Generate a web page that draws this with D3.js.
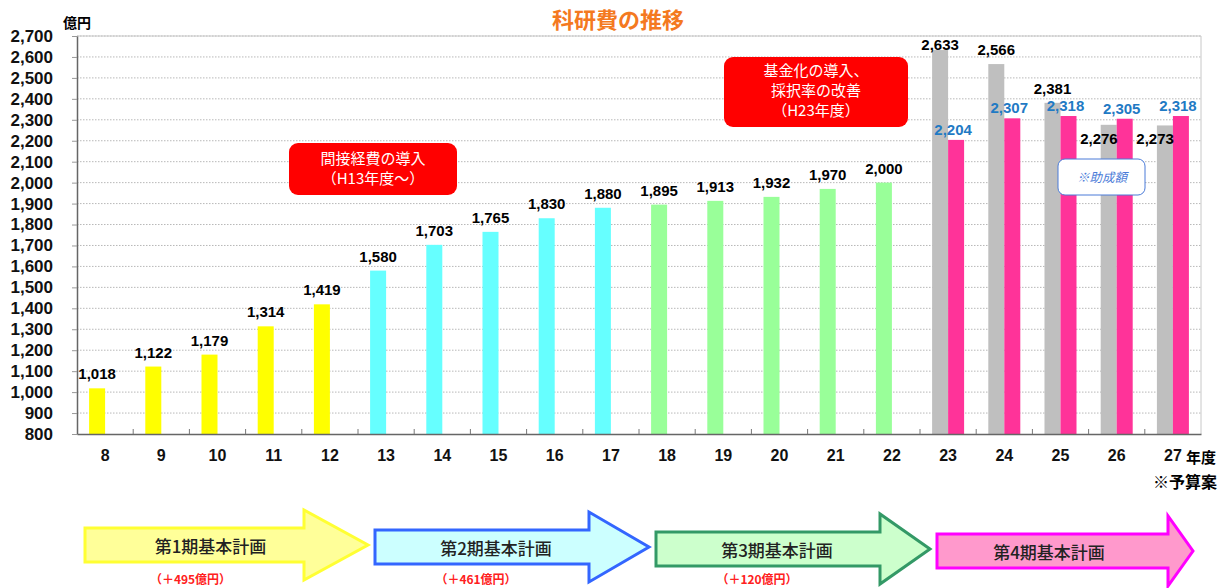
<!DOCTYPE html>
<html>
<head>
<meta charset="utf-8">
<script src="https://cdn.jsdelivr.net/npm/d3@7"></script>
<style>
  body { margin: 0; background: #fff; }
  svg { display: block; font-family: "Liberation Sans", Arial, "Noto Sans CJK JP", sans-serif; }
  .jp { font-family: "Noto Sans CJK JP", sans-serif; }
</style>
</head>
<body>
<svg id="chart" width="1223" height="588"></svg>
<script>
// fiscal years (Heisei) and budget in 億円
const years = ['8', '9', '10', '11', '12', '13', '14', '15', '16', '17',
    '18', '19', '20', '21', '22', '23', '24', '25', '26', '27'];
const totalValues = [1018, 1122, 1179, 1314, 1419, 1580, 1703, 1765, 1830, 1880,
    1895, 1913, 1932, 1970, 2000, 2633, 2566, 2381, 2276, 2273];
// 助成額 (grant amount) from H23
const grantYears = ['23', '24', '25', '26', '27'];
const grantValues = [2204, 2307, 2318, 2305, 2318];

const yTickValues = [800, 900, 1000, 1100, 1200, 1300, 1400, 1500, 1600, 1700,
    1800, 1900, 2000, 2100, 2200, 2300, 2400, 2500, 2600, 2700];

// basic plan periods
const periodNames = ['第1期基本計画', '第2期基本計画', '第3期基本計画', '第4期基本計画'];
const periodFirstYear = ['8', '13', '18', '23'];
const periodLastYear = ['12', '17', '22', '27'];
const periodIncrease = ['（＋495億円）', '（＋461億円）', '（＋120億円）', ''];

const noteLeft = ['間接経費の導入', '（H13年度～）'];
const noteRight = ['基金化の導入、', '採択率の改善', '（H23年度）'];

// ---- layout / styles ----
const margin = { top: 36, left: 77, right: 22, bottom: 154 };
const width = 1223, height = 588;
const barColors = ['#ffff00', '#66ffff', '#99ff99', '#bfbfbf'];
const grantColor = '#ff3399';
const arrowFill = ['#ffff99', '#ccffff', '#ccffcc', '#ff99cc'];
const arrowStroke = ['#ffff33', '#3366ff', '#339966', '#ff00ff'];
const arrowHead = [64, 60, 50, 25];

const svg = d3.select('#chart');

const x0 = d3.scaleBand()
    .domain(years)
    .range([margin.left, width - margin.right]);

const x1 = d3.scaleBand()
    .domain(['total', 'grant'])
    .range([0, x0.bandwidth()])
    .paddingInner(0)
    .paddingOuter(0.756);

const y = d3.scaleLinear()
    .domain([800, 2700])
    .range([height - margin.bottom, margin.top]);

const periodOf = yr => periodLastYear.findIndex(l => +yr <= +l);

// grid
svg.append('g')
    .selectAll('line')
    .data(yTickValues.slice(1))
    .join('line')
    .attr('x1', margin.left)
    .attr('x2', width - margin.right)
    .attr('y1', d => y(d))
    .attr('y2', d => y(d))
    .attr('stroke', '#b8b8b8')
    .attr('stroke-dasharray', '1.5,1.5');

// frame top / right
svg.append('path')
    .attr('d', `M${margin.left},${y(2700)}H${width - margin.right}V${y(800)}`)
    .attr('fill', 'none')
    .attr('stroke', '#c8c8c8');

// bars
const chart = svg.append('g');
chart.selectAll('rect.total')
    .data(years.map((yr, i) => ({ yr, v: totalValues[i] })))
    .join('rect')
    .attr('class', 'total')
    .attr('x', d => x0(d.yr) + x1('total'))
    .attr('width', x1.bandwidth())
    .attr('y', d => y(d.v))
    .attr('height', d => y(800) - y(d.v))
    .attr('fill', d => barColors[periodOf(d.yr)]);

chart.selectAll('rect.grant')
    .data(grantYears.map((yr, i) => ({ yr, v: grantValues[i] })))
    .join('rect')
    .attr('class', 'grant')
    .attr('x', d => x0(d.yr) + x1('grant'))
    .attr('width', x1.bandwidth())
    .attr('y', d => y(d.v))
    .attr('height', d => y(800) - y(d.v))
    .attr('fill', grantColor);

// value labels
const fmt = d3.format(',');
chart.selectAll('text.tv')
    .data(years.map((yr, i) => ({ yr, v: totalValues[i], g: grantValues[grantYears.indexOf(yr)] })))
    .join('text')
    .attr('class', 'tv')
    .attr('font-size', 15)
    .attr('font-weight', 'bold')
    .attr('fill', '#000')
    .each(function (d) {
        const t = d3.select(this);
        // label under the top when the grant label sits above it
        if (d.g !== undefined && d.v <= d.g) {
            t.attr('text-anchor', 'end')
                .attr('x', x0(d.yr) + x1('total') + x1.bandwidth() + 1)
                .attr('y', y(d.v) + 19);
        } else {
            t.attr('text-anchor', 'middle')
                .attr('x', x0(d.yr) + x1('total') + x1.bandwidth() / 2)
                .attr('y', Math.max(y(d.v) - 9, margin.top + 14));
        }
    })
    .text(d => fmt(d.v));

chart.selectAll('text.gv')
    .data(grantYears.map((yr, i) => ({ yr, v: grantValues[i] })))
    .join('text')
    .attr('class', 'gv')
    .attr('font-size', 15)
    .attr('font-weight', 'bold')
    .attr('fill', '#1f7ac4')
    .attr('text-anchor', 'middle')
    .attr('x', d => x0(d.yr) + x1('grant') + x1.bandwidth() / 2 - 3)
    .attr('y', d => y(d.v) - 5)
    .text(d => fmt(d.v));

// y axis
const yAxis = svg.append('g')
    .attr('transform', `translate(${margin.left},0)`)
    .call(d3.axisLeft(y).tickValues(yTickValues).tickFormat(fmt).tickSize(5).tickPadding(19).tickSizeOuter(0));
yAxis.select('.domain').attr('stroke', '#666').attr('stroke-width', 1.5);
yAxis.selectAll('.tick line').attr('stroke', '#999');
yAxis.selectAll('.tick text')
    .attr('font-size', 17)
    .attr('font-weight', 'bold')
    .attr('fill', '#111')
    .attr('font-family', '"Liberation Sans", Arial, sans-serif');

// x axis
const xAxis = svg.append('g')
    .attr('transform', `translate(0,${y(800)})`)
    .call(d3.axisBottom(x0).tickSize(0).tickPadding(16));
xAxis.select('.domain').attr('stroke', '#666').attr('stroke-width', 1.5);
xAxis.selectAll('.tick text')
    .attr('font-size', 16)
    .attr('font-weight', 'bold')
    .attr('fill', '#111')
    .attr('font-family', '"Liberation Sans", Arial, sans-serif');
xAxis.selectAll('line.bound')
    .data(years.slice(1))
    .join('line')
    .attr('class', 'bound')
    .attr('x1', d => x0(d))
    .attr('x2', d => x0(d))
    .attr('y1', 0)
    .attr('y2', -5)
    .attr('stroke', '#777');

// titles and units
svg.append('text')
    .attr('class', 'jp')
    .attr('x', 618).attr('y', 28)
    .attr('text-anchor', 'middle')
    .attr('font-size', 22)
    .attr('font-weight', 'bold')
    .attr('fill', '#f47920')
    .text('科研費の推移');

svg.append('text')
    .attr('class', 'jp')
    .attr('x', 63).attr('y', 28)
    .attr('font-size', 14)
    .attr('font-weight', 'bold')
    .text('億円');

svg.append('text')
    .attr('class', 'jp')
    .attr('x', 1186).attr('y', 463)
    .attr('font-size', 15)
    .attr('font-weight', 'bold')
    .text('年度');

svg.append('text')
    .attr('class', 'jp')
    .attr('x', 1217).attr('y', 488)
    .attr('text-anchor', 'end')
    .attr('font-size', 16)
    .attr('font-weight', 'bold')
    .text('※予算案');

// red callouts
function callout(x, yTop, w, h, lines, lh, firstBase) {
    const g = svg.append('g');
    g.append('rect')
        .attr('x', x).attr('y', yTop)
        .attr('width', w).attr('height', h)
        .attr('rx', 9)
        .attr('fill', '#ff0000');
    g.selectAll('text')
        .data(lines)
        .join('text')
        .attr('class', 'jp')
        .attr('x', x + w / 2)
        .attr('y', (d, i) => firstBase + i * lh)
        .attr('text-anchor', 'middle')
        .attr('font-size', 15)
        .attr('fill', '#fff')
        .text(d => d);
}
callout(289, 143, 168, 52, noteLeft, 20, 164);
callout(724, 57, 184, 70, noteRight, 20, 76);

// ※助成額 box
svg.append('rect')
    .attr('x', 1058).attr('y', 159)
    .attr('width', 87).attr('height', 36)
    .attr('rx', 7)
    .attr('fill', '#fff')
    .attr('stroke', '#4a7bd8');
svg.append('text')
    .attr('class', 'jp')
    .attr('x', 1102).attr('y', 182)
    .attr('text-anchor', 'middle')
    .attr('font-size', 12.5)
    .attr('font-style', 'italic')
    .attr('fill', '#4a7bd8')
    .text('※助成額');

// plan arrows
const arrows = svg.append('g');
periodNames.forEach((name, i) => {
    const left = x0(periodFirstYear[i]) + (i === 0 ? 8 : 17);
    const tip = Math.min(x0(periodLastYear[i]) + x0.bandwidth() + 10, width - 30);
    const base = tip - arrowHead[i];
    const cy = 545 + i * 2;
    const bh = 17, hh = 35;
    const d = `M${left},${cy - bh}H${base}V${cy - hh}L${tip},${cy}L${base},${cy + hh}V${cy + bh}H${left}Z`;
    arrows.append('path')
        .attr('d', d)
        .attr('fill', arrowFill[i])
        .attr('stroke', arrowStroke[i])
        .attr('stroke-width', 3)
        .attr('stroke-linejoin', 'miter');
    const cx = (left + tip) / 2 - 16;
    arrows.append('text')
        .attr('class', 'jp')
        .attr('x', cx)
        .attr('y', cy + 8)
        .attr('text-anchor', 'middle')
        .attr('font-size', 17)
        .attr('font-weight', 500)
        .attr('fill', '#222')
        .text(name);
    if (periodIncrease[i]) {
        arrows.append('text')
            .attr('class', 'jp')
            .attr('x', cx - 20)
            .attr('y', 584)
            .attr('text-anchor', 'middle')
            .attr('font-size', 12)
            .attr('font-weight', 'bold')
            .attr('fill', '#ff2020')
            .text(periodIncrease[i]);
    }
});
</script>
</body>
</html>
